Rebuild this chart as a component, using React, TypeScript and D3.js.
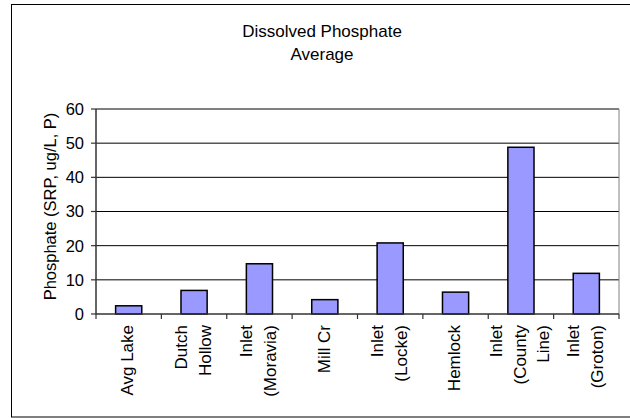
import React from 'react'
import * as d3 from 'd3'

// chart data
const categories = [
  'Avg Lake',
  'Dutch\nHollow',
  'Inlet\n(Moravia)',
  'Mill Cr',
  'Inlet\n(Locke)',
  'Hemlock',
  'Inlet\n(County\nLine)',
  'Inlet\n(Groton)',
]
const values = [2.4, 6.9, 14.7, 4.2, 20.8, 6.4, 48.8, 11.9]
const yTicks = [0, 10, 20, 30, 40, 50, 60]
const titleLines = ['Dissolved Phosphate', 'Average']
const yLabel = 'Phosphate (SRP, ug/L, P)'

const FONT = '"Liberation Sans", Arial, sans-serif'

export default function App() {
  const width = 630
  const height = 418
  const plot = { left: 96, right: 619, top: 109, bottom: 314 }

  const x = d3.scaleBand<number>()
    .domain(categories.map((_, i) => i))
    .range([plot.left, plot.right])
    .paddingInner(0.6)
    .paddingOuter(0.3)

  const y = d3.scaleLinear()
    .domain([0, 60])
    .range([plot.bottom, plot.top])

  const step = x.step()
  const center = (i: number) => (x(i) as number) + x.bandwidth() / 2
  const boundaries = d3.range(categories.length + 1).map((i) => plot.left + i * step)
  const lineGap = 23.5

  return (
    <svg
      width={width}
      height={height}
      style={{ position: 'absolute', left: 0, top: 0, background: '#fff' }}
      fontFamily={FONT}
    >
      {/* outer chart frame */}
      <rect x={11.5} y={4.5} width={630} height={412.5} fill="#fff" stroke="#000" strokeWidth={1} />

      {/* title */}
      <text x={322} y={37} fontSize={17} textAnchor="middle" fill="#000">
        {titleLines.map((t, i) => (
          <tspan key={t} x={322} dy={i === 0 ? 0 : 22.7}>{t}</tspan>
        ))}
      </text>

      {/* gridlines */}
      {yTicks.filter((t) => t > 0).map((t) => (
        <line key={t} x1={plot.left} x2={plot.right} y1={y(t)} y2={y(t)} stroke="#000" strokeWidth={1} />
      ))}
      {/* plot area border on the right */}
      <line x1={plot.right} x2={plot.right} y1={plot.top} y2={plot.bottom} stroke="#808080" strokeWidth={1} />

      {/* bars */}
      {values.map((v, i) => (
        <rect
          key={i}
          x={x(i)}
          y={y(v)}
          width={x.bandwidth()}
          height={y(0) - y(v)}
          fill="#9999FF"
          stroke="#000"
          strokeWidth={1.5}
        />
      ))}

      {/* y axis */}
      <line x1={plot.left} x2={plot.left} y1={plot.top} y2={plot.bottom} stroke="#333" strokeWidth={1.5} />
      {yTicks.map((t) => (
        <g key={t}>
          <line x1={plot.left - 5} x2={plot.left} y1={y(t)} y2={y(t)} stroke="#333" strokeWidth={1.2} />
          <text x={84} y={y(t)} dy="0.36em" fontSize={16.5} textAnchor="end" fill="#000">{t}</text>
        </g>
      ))}
      <text
        transform={`translate(56,206.5) rotate(-90)`}
        fontSize={16.5}
        textAnchor="middle"
        fill="#000"
      >
        {yLabel}
      </text>

      {/* x axis */}
      <line x1={plot.left} x2={plot.right} y1={plot.bottom} y2={plot.bottom} stroke="#333" strokeWidth={1.5} />
      {boundaries.map((bx, i) => (
        <line key={i} x1={bx} x2={bx} y1={plot.bottom} y2={plot.bottom + 5} stroke="#333" strokeWidth={1.2} />
      ))}
      {categories.map((c, i) => {
        const lines = c.split('\n')
        return lines.map((ln, j) => {
          const bx = center(i) + 4.8 + (j - (lines.length - 1) / 2) * lineGap
          return (
            <text
              key={`${i}-${j}`}
              transform={`translate(${bx},325) rotate(-90)`}
              fontSize={17}
              textAnchor="end"
              fill="#000"
            >
              {ln}
            </text>
          )
        })
      })}
    </svg>
  )
}
